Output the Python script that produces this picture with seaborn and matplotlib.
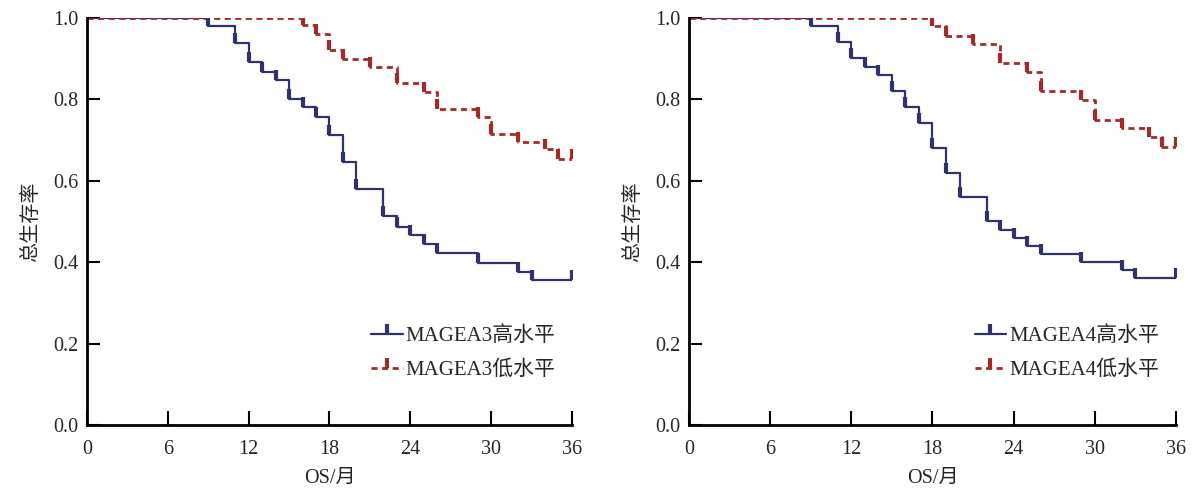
import matplotlib
matplotlib.use("Agg")
import matplotlib.pyplot as plt
import pandas as pd
import seaborn as sns
from matplotlib.lines import Line2D

# Kaplan-Meier steps (months, overall survival)
left_hi_t = [0, 9, 11, 12, 13, 14, 15, 16, 17, 18, 19, 20, 22, 23, 24, 25, 26, 29, 32, 33, 36]
left_hi_s = [1.0, 0.980, 0.938, 0.891, 0.868, 0.848, 0.801, 0.780, 0.756, 0.712, 0.646,
             0.580, 0.513, 0.486, 0.467, 0.445, 0.423, 0.399, 0.376, 0.356, 0.356]
left_lo_t = [0, 16, 17, 18, 19, 21, 23, 25, 26, 29, 30, 32, 34, 35, 36]
left_lo_s = [1.0, 0.982, 0.961, 0.920, 0.898, 0.879, 0.840, 0.819, 0.776, 0.756, 0.715,
             0.696, 0.677, 0.654, 0.654]

right_hi_t = [0, 9, 11, 12, 13, 14, 15, 16, 17, 18, 19, 20, 22, 23, 24, 25, 26, 29, 32, 33, 36]
right_hi_s = [1.0, 0.980, 0.940, 0.901, 0.880, 0.860, 0.821, 0.781, 0.741, 0.681, 0.620,
              0.561, 0.501, 0.479, 0.460, 0.440, 0.420, 0.400, 0.381, 0.360, 0.360]
right_lo_t = [0, 18, 19, 21, 23, 25, 26, 29, 30, 32, 34, 35, 36]
right_lo_s = [1.0, 0.979, 0.955, 0.937, 0.890, 0.868, 0.820, 0.798, 0.749, 0.729, 0.707,
              0.682, 0.682]

x_ticks = [0, 6, 12, 18, 24, 30, 36]
y_ticks = [0.0, 0.2, 0.4, 0.6, 0.8, 1.0]
genes = ["MAGEA3", "MAGEA4"]
hi_label = "高水平"
lo_label = "低水平"

blue = "#303270"
red = "#a32a2a"

sns.set_style("ticks")
plt.rcParams["font.family"] = ["Liberation Serif", "Noto Sans CJK SC"]
plt.rcParams["xtick.direction"] = "in"
plt.rcParams["ytick.direction"] = "in"

fig = plt.figure(figsize=(11.93, 4.94), dpi=100)
ax1 = fig.add_axes([0.0729, 0.1397, 0.4065, 0.824])
ax2 = fig.add_axes([0.5775, 0.1397, 0.4082, 0.824])

panels = [
    (ax1, genes[0], left_hi_t, left_hi_s, left_lo_t, left_lo_s),
    (ax2, genes[1], right_hi_t, right_hi_s, right_lo_t, right_lo_s),
]

dash = (0, (2.2, 1.6))

for ax, gene, ht, hs, lt, ls_ in panels:
    df = pd.concat([
        pd.DataFrame({"t": ht, "s": hs, "grp": gene + hi_label}),
        pd.DataFrame({"t": lt, "s": ls_, "grp": gene + lo_label}),
    ])
    sns.lineplot(data=df[df.grp == gene + hi_label], x="t", y="s", ax=ax,
                 color=blue, lw=1.6, drawstyle="steps-post",
                 estimator=None, sort=False, legend=False)
    sns.lineplot(data=df[df.grp == gene + lo_label], x="t", y="s", ax=ax,
                 color=red, lw=2.0, drawstyle="steps-post", dashes=False,
                 estimator=None, sort=False, legend=False)
    ax.lines[-1].set_linestyle(dash)
    # censor ticks
    ax.plot(ht[1:], hs[1:], ls="none", marker=2, ms=7, mew=3, color=blue)
    ax.plot(lt[1:], ls_[1:], ls="none", marker=2, ms=7, mew=3, color=red)

    ax.set_xlim(0, 36)
    ax.set_ylim(0, 1.0)
    ax.set_xticks(x_ticks)
    ax.set_yticks(y_ticks)
    ax.set_yticklabels([f"{v:.1f}" for v in y_ticks])
    ax.tick_params(axis="x", length=10, width=1.5, labelsize=14.5, pad=11, color="black")
    ax.tick_params(axis="y", length=9, width=1.5, labelsize=14.5, pad=6, color="black")
    for sp in ["top", "right"]:
        ax.spines[sp].set_visible(False)
    for sp in ["left", "bottom"]:
        ax.spines[sp].set_linewidth(2)
        ax.spines[sp].set_color("black")
    ax.set_xlabel("OS/月", fontsize=14.5, labelpad=7)
    ax.set_ylabel("总生存率", fontsize=14.5, labelpad=9)

    handles = [
        Line2D([0], [0], color=blue, lw=1.6, marker=2, ms=7, mew=3),
        Line2D([0], [0], color=red, lw=2.0, ls=dash, marker=2, ms=7, mew=3),
    ]
    ax.legend(handles, [gene + hi_label, gene + lo_label], loc="lower left",
              bbox_to_anchor=(0.565, 0.085), frameon=False, fontsize=15,
              handlelength=1.5, handletextpad=0.15, labelspacing=0.7,
              borderpad=0, numpoints=1)

fig.savefig("out.png", dpi=100)
